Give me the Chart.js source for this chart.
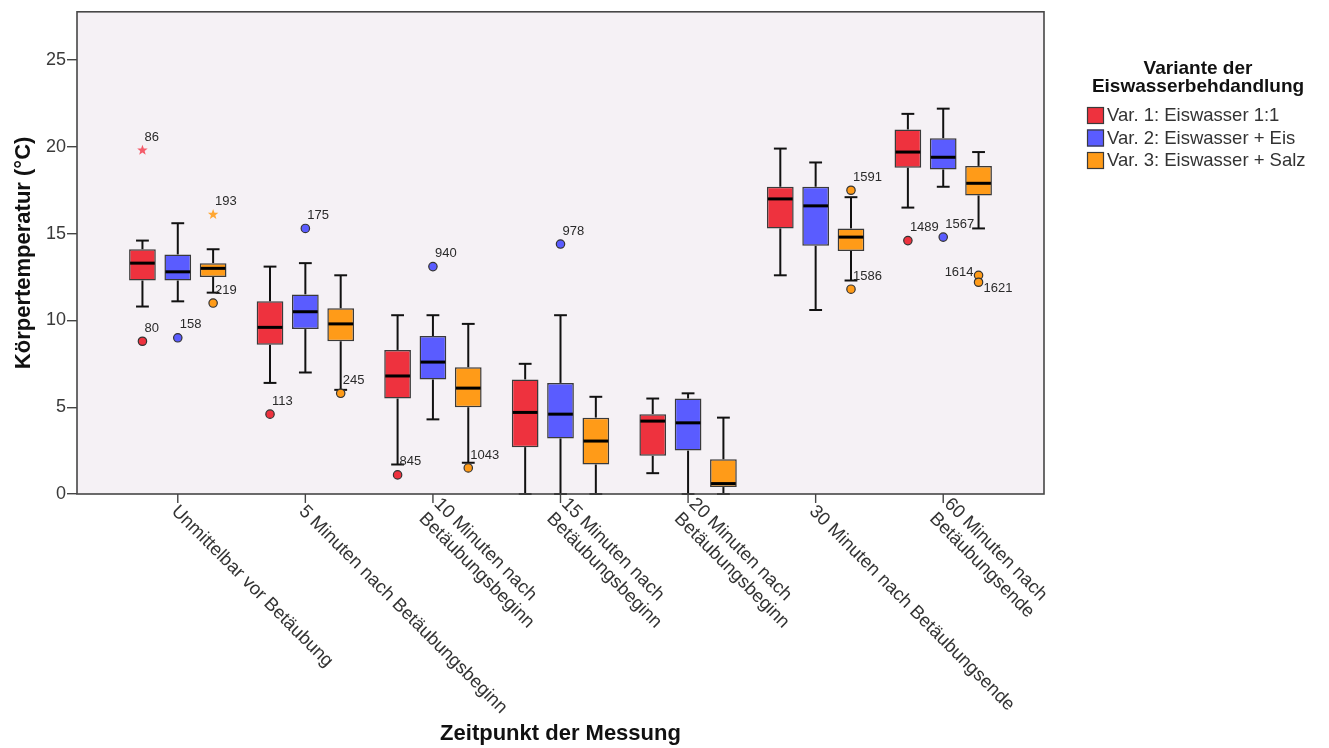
<!DOCTYPE html>
<html>
<head>
<meta charset="utf-8">
<script src="https://cdn.jsdelivr.net/npm/chart.js@4.4.1/dist/chart.umd.min.js"></script>
<style>
  html, body { margin: 0; padding: 0; background: #ffffff; }
  #wrap { width: 1329px; height: 748px; }
</style>
</head>
<body>
<div id="wrap"><canvas id="chart" width="1329" height="748"></canvas></div>
<script>
// Measurement time points (multi-line labels are arrays)
const timepoints = [
  'Unmittelbar vor Betäubung',
  '5 Minuten nach Betäubungsbeginn',
  ['10 Minuten nach', 'Betäubungsbeginn'],
  ['15 Minuten nach', 'Betäubungsbeginn'],
  ['20 Minuten nach', 'Betäubungsbeginn'],
  '30 Minuten nach Betäubungsende',
  ['60 Minuten nach', 'Betäubungsende']
];

const seriesNames = [
  'Var. 1: Eiswasser 1:1',
  'Var. 2: Eiswasser + Eis',
  'Var. 3: Eiswasser + Salz'
];

const yTicks = [0, 5, 10, 15, 20, 25];

// Var. 1: Eiswasser 1:1 (°C)
const var1Low    = [10.8, 6.4, 1.7, 0.0, 1.2, 12.6, 16.5];
const var1Q1     = [12.3, 8.6, 5.5, 2.7, 2.2, 15.3, 18.8];
const var1Median = [13.3, 9.6, 6.8, 4.7, 4.2, 17.0, 19.7];
const var1Q3     = [14.1, 11.1, 8.3, 6.6, 4.6, 17.7, 21.0];
const var1High   = [14.6, 13.1, 10.3, 7.5, 5.5, 19.9, 21.9];
const var1Outliers = [
  { t: 0, v: 19.8, id: '86', extreme: true },
  { t: 0, v: 8.8, id: '80' },
  { t: 1, v: 4.6, id: '113' },
  { t: 2, v: 1.1, id: '845' },
  { t: 6, v: 14.6, id: '1489' }
];

// Var. 2: Eiswasser + Eis (°C)
const var2Low    = [11.1, 7.0, 4.3, 0.0, 0.0, 10.6, 17.7];
const var2Q1     = [12.3, 9.5, 6.6, 3.2, 2.5, 14.3, 18.7];
const var2Median = [12.8, 10.5, 7.6, 4.6, 4.1, 16.6, 19.4];
const var2Q3     = [13.8, 11.5, 9.1, 6.4, 5.5, 17.7, 20.5];
const var2High   = [15.6, 13.3, 10.3, 10.3, 5.8, 19.1, 22.2];
const var2Outliers = [
  { t: 0, v: 9.0, id: '158' },
  { t: 1, v: 15.3, id: '175' },
  { t: 2, v: 13.1, id: '940' },
  { t: 3, v: 14.4, id: '978' },
  { t: 6, v: 14.8, id: '1567' }
];

// Var. 3: Eiswasser + Salz (°C)
const var3Low    = [11.6, 6.0, 1.8, 0.0, 0.0, 12.3, 15.3];
const var3Q1     = [12.5, 8.8, 5.0, 1.7, 0.4, 14.0, 17.2];
const var3Median = [13.0, 9.8, 6.1, 3.05, 0.6, 14.8, 17.9];
const var3Q3     = [13.3, 10.7, 7.3, 4.4, 2.0, 15.3, 18.9];
const var3High   = [14.1, 12.6, 9.8, 5.6, 4.4, 17.1, 19.7];
const var3Outliers = [
  { t: 0, v: 16.1, id: '193', extreme: true },
  { t: 0, v: 11.0, id: '219' },
  { t: 1, v: 5.8, id: '245' },
  { t: 2, v: 1.5, id: '1043' },
  { t: 5, v: 17.5, id: '1591' },
  { t: 5, v: 11.8, id: '1586' },
  { t: 6, v: 12.6, id: '1614' },
  { t: 6, v: 12.2, id: '1621' }
];

const series = [
  { low: var1Low, q1: var1Q1, med: var1Median, q3: var1Q3, high: var1High, out: var1Outliers },
  { low: var2Low, q1: var2Q1, med: var2Median, q3: var2Q3, high: var2High, out: var2Outliers },
  { low: var3Low, q1: var3Q1, med: var3Median, q3: var3Q3, high: var3High, out: var3Outliers }
];

// ---- styling ----
const FONT = '"Liberation Sans", Arial, sans-serif';
const boxColors = ['#EE323E', '#5A5CFF', '#FF9B18'];
const starColors = ['#F45C6A', '#5A5CFF', '#FFA733'];
const plotBg = '#F5F1F5';
const frameColor = '#474747';
// label placement for outlier ids that sit close to a neighbour
const labelPlacement = {
  '1614': { dx: -5, dy: -3, align: 'right' },
  '1621': { dx: 5, dy: 6, align: 'left' }
};

function drawStar(ctx, x, y, rOut, rIn) {
  ctx.beginPath();
  for (let i = 0; i < 10; i++) {
    const r = i % 2 === 0 ? rOut : rIn;
    const a = -Math.PI / 2 + i * Math.PI / 5;
    const px = x + r * Math.cos(a), py = y + r * Math.sin(a);
    if (i === 0) ctx.moveTo(px, py); else ctx.lineTo(px, py);
  }
  ctx.closePath();
  ctx.fill();
}

function line(ctx, x1, y1, x2, y2) {
  ctx.beginPath();
  ctx.moveTo(x1, y1);
  ctx.lineTo(x2, y2);
  ctx.stroke();
}

const boxplotDecor = {
  id: 'boxplotDecor',
  beforeDraw(chart) {
    const { ctx, chartArea: a } = chart;
    ctx.save();
    ctx.fillStyle = plotBg;
    ctx.fillRect(a.left, a.top, a.right - a.left, a.bottom - a.top);
    ctx.restore();
  },
  beforeDatasetsDraw(chart) {
    // whiskers and caps
    const { ctx } = chart;
    const y = chart.scales.y;
    ctx.save();
    ctx.strokeStyle = '#111111';
    ctx.lineWidth = 2;
    series.forEach((s, k) => {
      chart.getDatasetMeta(k).data.forEach((bar, i) => {
        const x = bar.x;
        const half = bar.width * 0.24;
        const pLo = y.getPixelForValue(s.low[i]);
        const pHi = y.getPixelForValue(s.high[i]);
        const pQ1 = y.getPixelForValue(s.q1[i]);
        const pQ3 = y.getPixelForValue(s.q3[i]);
        line(ctx, x, pHi, x, pQ3);
        line(ctx, x, pQ1, x, pLo);
        line(ctx, x - half, pHi, x + half, pHi);
        line(ctx, x - half, pLo, x + half, pLo);
      });
    });
    ctx.restore();
  },
  afterDatasetsDraw(chart) {
    const { ctx } = chart;
    const y = chart.scales.y;
    ctx.save();
    // medians
    ctx.strokeStyle = '#000000';
    ctx.lineWidth = 3;
    series.forEach((s, k) => {
      chart.getDatasetMeta(k).data.forEach((bar, i) => {
        const p = y.getPixelForValue(s.med[i]);
        line(ctx, bar.x - bar.width / 2 + 1, p, bar.x + bar.width / 2 - 1, p);
      });
    });
    // outliers with case labels
    series.forEach((s, k) => {
      const meta = chart.getDatasetMeta(k);
      s.out.forEach(o => {
        const x = meta.data[o.t].x;
        const py = y.getPixelForValue(o.v);
        if (o.extreme) {
          ctx.fillStyle = starColors[k];
          drawStar(ctx, x, py, 5.5, 2.3);
        } else {
          ctx.beginPath();
          ctx.arc(x, py, 4.2, 0, Math.PI * 2);
          ctx.fillStyle = boxColors[k];
          ctx.fill();
          ctx.lineWidth = 1.2;
          ctx.strokeStyle = '#333333';
          ctx.stroke();
        }
        const pl = labelPlacement[o.id] || { dx: 2, dy: -13, align: 'left' };
        ctx.fillStyle = '#2a2a2a';
        ctx.font = '13px ' + FONT;
        ctx.textAlign = pl.align;
        ctx.textBaseline = 'middle';
        ctx.fillText(o.id, x + pl.dx, py + pl.dy);
      });
    });
    ctx.restore();
  },
  afterDraw(chart) {
    const { ctx, chartArea: a } = chart;
    const xs = chart.scales.x;
    ctx.save();
    // plot frame
    ctx.strokeStyle = frameColor;
    ctx.lineWidth = 1.6;
    ctx.strokeRect(a.left, a.top, a.right - a.left, a.bottom - a.top);

    // category ticks and rotated labels (label block centred on the tick)
    ctx.lineWidth = 1.4;
    ctx.strokeStyle = '#444444';
    ctx.fillStyle = '#333333';
    ctx.font = '18.5px ' + FONT;
    timepoints.forEach((lab, i) => {
      const px = xs.getPixelForValue(i);
      line(ctx, px, a.bottom, px, a.bottom + 9);
      const lines = Array.isArray(lab) ? lab : [lab];
      ctx.save();
      ctx.translate(px + 3, a.bottom + 8);
      ctx.rotate(Math.PI / 4);
      ctx.textAlign = 'left';
      ctx.textBaseline = 'top';
      lines.forEach((t, j) => ctx.fillText(t, 0, (j - (lines.length - 1) / 2) * 21));
      ctx.restore();
    });

    // axis titles
    ctx.fillStyle = '#111111';
    ctx.font = 'bold 22px ' + FONT;
    ctx.textAlign = 'center';
    ctx.textBaseline = 'middle';
    ctx.fillText('Zeitpunkt der Messung', (a.left + a.right) / 2, 734);
    ctx.save();
    ctx.translate(24, (a.top + a.bottom) / 2);
    ctx.rotate(-Math.PI / 2);
    ctx.fillText('Körpertemperatur (°C)', 0, 0);
    ctx.restore();

    // legend
    ctx.font = 'bold 19px ' + FONT;
    ctx.textAlign = 'center';
    ctx.fillText('Variante der', 1198, 69);
    ctx.fillText('Eiswasserbehdandlung', 1198, 87);
    ctx.font = '18.5px ' + FONT;
    ctx.textAlign = 'left';
    seriesNames.forEach((name, k) => {
      const top = 107 + k * 22.5;
      ctx.fillStyle = boxColors[k];
      ctx.fillRect(1087, top, 17, 17);
      ctx.strokeStyle = '#3a3a3a';
      ctx.lineWidth = 1.2;
      ctx.strokeRect(1087.5, top + 0.5, 16, 16);
      ctx.fillStyle = '#333333';
      ctx.fillText(name, 1107, top + 9);
    });
    ctx.restore();
  }
};

const datasets = seriesNames.map((name, k) => ({
  label: name,
  data: timepoints.map((_, i) => ({ x: i, y: [series[k].q1[i], series[k].q3[i]] })),
  backgroundColor: boxColors[k],
  borderColor: '#3a3a3a',
  borderWidth: 1.5,
  borderSkipped: false,
  categoryPercentage: 0.831,
  barPercentage: 0.756
}));

new Chart(document.getElementById('chart'), {
  type: 'bar',
  data: { datasets },
  plugins: [boxplotDecor],
  options: {
    responsive: false,
    animation: false,
    events: [],
    devicePixelRatio: 1,
    layout: { padding: { top: 8, right: 285, bottom: 0, left: 0 } },
    plugins: { legend: { display: false }, tooltip: { enabled: false } },
    scales: {
      x: {
        type: 'linear',
        offset: false,
        min: -0.79,
        max: 6.79,
        ticks: { display: false, stepSize: 1, includeBounds: false },
        grid: { display: false },
        border: { display: false },
        afterFit(scale) { scale.height = 254; }
      },
      y: {
        type: 'linear',
        min: 0,
        max: 27.78,
        afterBuildTicks(scale) { scale.ticks = yTicks.map(v => ({ value: v })); },
        ticks: {
          font: { family: FONT, size: 18 },
          color: '#3a3a3a',
          padding: 1
        },
        grid: {
          display: true,
          drawOnChartArea: false,
          drawTicks: true,
          tickLength: 10,
          color: '#444444',
          lineWidth: 1.4
        },
        border: { display: false },
        afterFit(scale) { scale.width = 77; }
      }
    }
  }
});
</script>
</body>
</html>
